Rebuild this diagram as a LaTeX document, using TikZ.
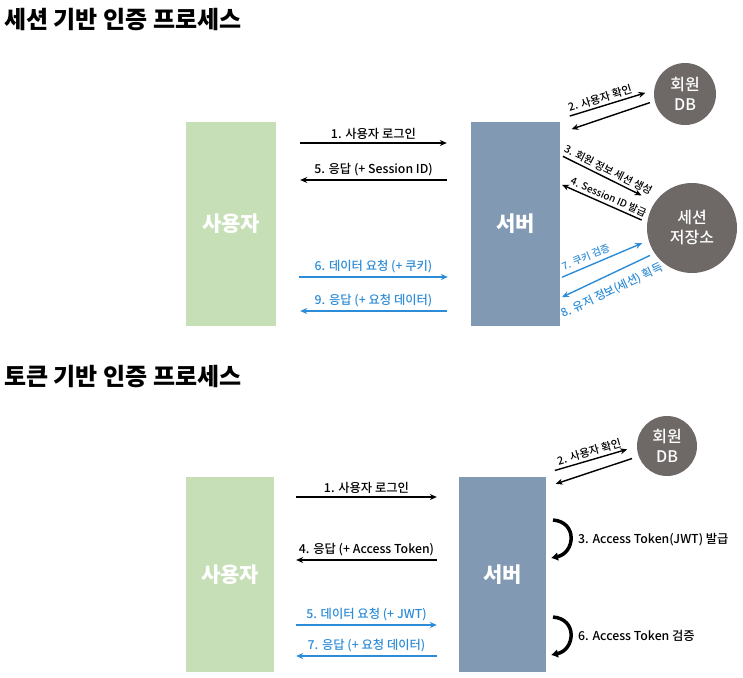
\documentclass[tikz,border=0pt]{standalone}
\usepackage{fontspec}
\setmainfont{Noto Sans CJK KR}
\newfontfamily\medfont{Noto Sans CJK KR Medium}
\usetikzlibrary{arrows.meta,calc}
\definecolor{usergreen}{HTML}{C7DFB7}
\definecolor{serverblue}{HTML}{8199B3}
\definecolor{dbgray}{HTML}{6E6967}
\definecolor{reqblue}{HTML}{2D8CD7}

\begin{document}
\begin{tikzpicture}[x=1pt,y=-1pt,>={Stealth[length=7pt,width=6pt]},
  title/.style={anchor=west,inner sep=0pt,font=\fontsize{24}{28}\selectfont\bfseries},
  actor/.style={fill=#1,inner sep=0pt,text=white,font=\fontsize{21}{24}\selectfont\bfseries},
  store/.style={circle,fill=dbgray,inner sep=0pt,text=white,align=center,font=\medfont\fontsize{16}{20}\selectfont},
  arr/.style={->,line width=1.4pt},
  req/.style={arr,reqblue},
  trim/.style={shorten <=#1,shorten >=#1},
  lbl/.style={inner sep=3pt,font=\medfont\fontsize{12.3}{14}\selectfont},
  slope/.style={sloped,inner sep=2.5pt,font=\medfont\fontsize{#1}{13}\selectfont},
  turn/.style={-{Latex[length=7pt,width=9pt]},line width=3.5pt}]
\useasboundingbox (0,0) rectangle (743,677);
\node[title] (t1) at (4,20){세션 기반 인증 프로세스};
\node[title] (t2) at (4,377){토큰 기반 인증 프로세스};
% session based
\node[actor=usergreen,minimum width=90pt,minimum height=204pt] (user1) at (231,224){사용자};
\node[actor=serverblue,minimum width=89pt,minimum height=204pt] (server1) at (515.5,224){서버};
\node[store,minimum size=62pt] (db1) at (685,94){회원\\DB};
\node[store,minimum size=90pt] (ss1) at (692,228){세션\\저장소};
\draw[arr,trim=24pt] (user1.east|-0,143) -- node[lbl,above]{1. 사용자 로그인} (server1.west|-0,143);
\draw[arr,trim=24pt] (server1.west|-0,180) -- node[lbl,above]{5. 응답 (+ Session ID)} (user1.east|-0,180);
\draw[req,trim=23pt] (user1.east|-0,277) -- node[lbl,above,text=reqblue]{6. 데이터 요청 (+ 쿠키)} (server1.west|-0,277);
\draw[req,trim=24pt] (server1.west|-0,311) -- node[lbl,above,text=reqblue]{9. 응답 (+ 요청 데이터)} (user1.east|-0,311);
\draw[arr,shorten <=10pt,shorten >=9pt] (server1.east|-0,119) -- node[slope=11,above,pos=.45]{2. 사용자 확인} (db1.173);
\draw[arr,shorten <=5pt,shorten >=12pt] (db1.193) -- (server1.east|-0,133);
\draw[arr,shorten <=3pt,shorten >=15pt] (server1.east|-0,155) -- node[slope=10.5,above,pos=.47]{3. 회원 정보 세션 생성} (ss1.145);
\draw[arr,shorten <=6pt,shorten >=2pt] (ss1.173) -- node[slope=10,above,pos=.48]{4. Session ID 발급} (server1.east|-0,184);
\draw[req,shorten <=2pt,shorten >=7pt] (server1.east|-0,278) -- node[slope=10,above,text=reqblue,pos=.33,inner sep=4pt]{7. 쿠키 검증} (ss1.196);
\draw[req,shorten <=5pt,shorten >=2pt] (ss1.214) -- node[slope=11.5,below,text=reqblue,pos=.52,inner sep=9pt]{8. 유저 정보(세션) 획득} (server1.east|-0,298);
% token based
\node[actor=usergreen,minimum width=88pt,minimum height=195pt] (user2) at (230,574.5){사용자};
\node[actor=serverblue,minimum width=87pt,minimum height=195pt] (server2) at (502.5,574.5){서버};
\node[store,minimum size=60pt] (db2) at (667,446){회원\\DB};
\draw[arr,trim=22pt] (user2.east|-0,497) -- node[lbl,above]{1. 사용자 로그인} (server2.west|-0,497);
\draw[arr,trim=22pt] (server2.west|-0,560) -- node[lbl,above]{4. 응답 (+ Access Token)} (user2.east|-0,560);
\draw[req,trim=22pt] (user2.east|-0,625) -- node[lbl,above,text=reqblue]{5. 데이터 요청 (+ JWT)} (server2.west|-0,625);
\draw[req,trim=22pt] (server2.west|-0,656) -- node[lbl,above,text=reqblue]{7. 응답 (+ 요청 데이터)} (user2.east|-0,656);
\draw[arr,shorten <=9pt,shorten >=10pt] (server2.east|-0,473) -- node[slope=11,above]{2. 사용자 확인} (db2.181);
\draw[arr,shorten <=7pt,shorten >=10pt] (db2.200) -- (server2.east|-0,487);
\node[lbl,anchor=west] (tok3) at (575,540){3. Access Token(JWT) 발급};
\node[lbl,anchor=west] (tok6) at (575,636){6. Access Token 검증};
\draw[turn] (553,520) .. controls (578,522) and (575,553) .. (551,558);
\draw[turn] (553,617) .. controls (578,619) and (575,650) .. (551,655);
\end{tikzpicture}
\end{document}
